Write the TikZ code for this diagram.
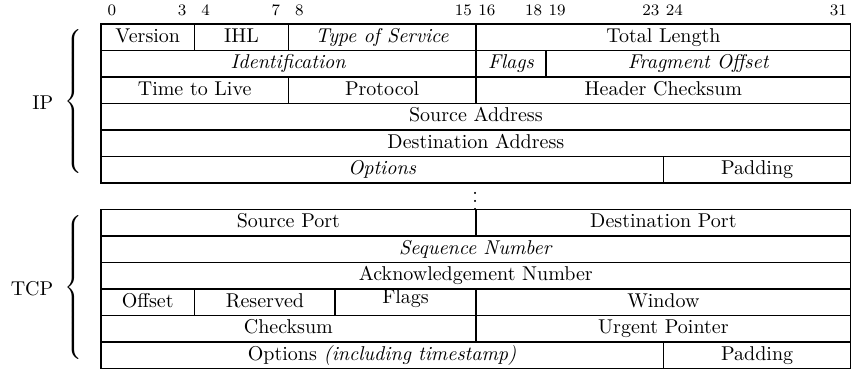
\documentclass[tikz,border=0pt]{standalone}
\usetikzlibrary{positioning}

\begin{document}
\begin{tikzpicture}[x=11.72pt, y=-13.25pt]
 \tikzset{hdrfield/.style={draw, line width=0.8pt, anchor=north west, inner sep=0pt,
            minimum width=#1*11.72pt, minimum height=13.25pt,
            text height=7pt, text depth=2pt},
          bitnum/.style={font=\footnotesize, inner sep=0pt},
          layerbrace/.style={inner sep=0pt, anchor=east}}
 \useasboundingbox (-4.27,-0.87) rectangle (32.04,13.06);
 \foreach \b in {0,3,4,7,8,15,16,18,19,23,24,31}
   \node[bitnum] (bit\b) at (\b+0.5,-0.49) {\b};
 % IP header
 \node[hdrfield=4]  (version)  at (0,0)  {Version};
 \node[hdrfield=4]  (ihl)      at (4,0)  {IHL};
 \node[hdrfield=8]  (tos)      at (8,0)  {\textit{Type of Service}};
 \node[hdrfield=16] (totlen)   at (16,0) {Total Length};
 \node[hdrfield=16] (ident)    at (0,1)  {\textit{Identification}};
 \node[hdrfield=3]  (ipflags)  at (16,1) {\textit{Flags}};
 \node[hdrfield=13] (fragoff)  at (19,1) {\textit{Fragment Offset}};
 \node[hdrfield=8]  (ttl)      at (0,2)  {Time to Live};
 \node[hdrfield=8]  (proto)    at (8,2)  {Protocol};
 \node[hdrfield=16] (hdrsum)   at (16,2) {Header Checksum};
 \node[hdrfield=32] (srcaddr)  at (0,3)  {Source Address};
 \node[hdrfield=32] (dstaddr)  at (0,4)  {Destination Address};
 \node[hdrfield=24] (ipopts)   at (0,5)  {\textit{Options}};
 \node[hdrfield=8]  (ippad)    at (24,5) {Padding};
 \node (gap) at (16,6.49) {$\vdots$};
 % TCP header
 \node[hdrfield=16] (srcport)  at (0,7)   {Source Port};
 \node[hdrfield=16] (dstport)  at (16,7)  {Destination Port};
 \node[hdrfield=32] (seqnum)   at (0,8)   {\textit{Sequence Number}};
 \node[hdrfield=32] (acknum)   at (0,9)   {Acknowledgement Number};
 \node[hdrfield=4]  (offset)   at (0,10)  {Offset};
 \node[hdrfield=6]  (reserved) at (4,10)  {Reserved};
 \node[hdrfield=6]  (tcpflags) at (10,10) {\raisebox{1.8pt}{Flags}};
 \node[hdrfield=16] (window)   at (16,10) {Window};
 \node[hdrfield=16] (tcpsum)   at (0,11)  {Checksum};
 \node[hdrfield=16] (urgent)   at (16,11) {Urgent Pointer};
 \node[hdrfield=24] (tcpopts)  at (0,12)  {Options \textit{(including timestamp)}};
 \node[hdrfield=8]  (tcppad)   at (24,12) {Padding};
 % braces
 \node[layerbrace] (ipbrace)  at (-0.63,3)     {$\left\{\rule[-35pt]{0pt}{70pt}\right.$};
 \node[left=2pt of ipbrace]  (iplabel)  {IP};
 \node[layerbrace] (tcpbrace) at (-0.63,10.02) {$\left\{\rule[-35pt]{0pt}{70pt}\right.$};
 \node[left=2pt of tcpbrace] (tcplabel) {TCP};
\end{tikzpicture}
\end{document}
